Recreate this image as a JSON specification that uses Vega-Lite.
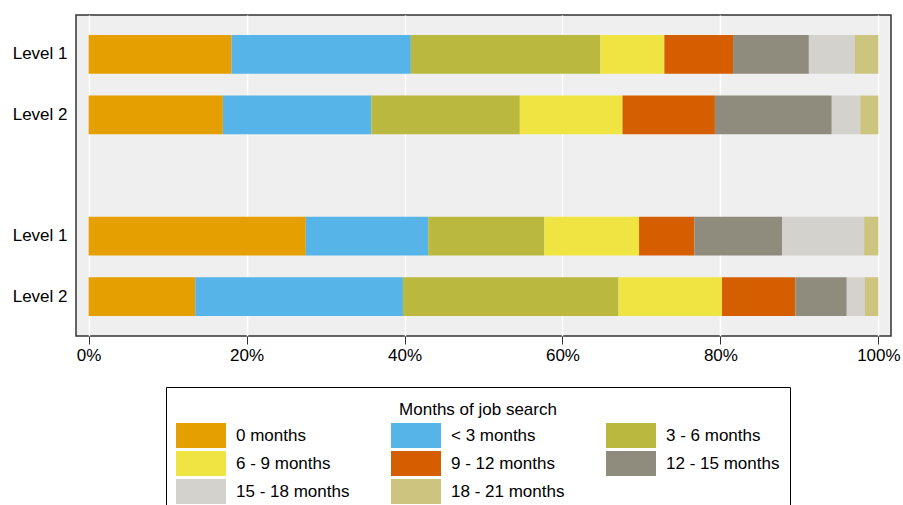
{
  "$schema": "https://vega.github.io/schema/vega-lite/v6.json",
  "width": 815,
  "height": 321,
  "autosize": {"type": "none"},
  "padding": {"left": 76, "top": 15, "right": 12, "bottom": 169},
  "background": "white",
  "config": {
    "font": "Liberation Sans",
    "view": {"fill": "#EFEFEF", "stroke": "#333333", "strokeWidth": 1.5}
  },
  "data": {
    "values": [
      {"row": "A|Level 1", "k": 1, "cat": "0 months", "pct": 18.1},
      {"row": "A|Level 1", "k": 2, "cat": "< 3 months", "pct": 22.7},
      {"row": "A|Level 1", "k": 3, "cat": "3 - 6 months", "pct": 24.0},
      {"row": "A|Level 1", "k": 4, "cat": "6 - 9 months", "pct": 8.1},
      {"row": "A|Level 1", "k": 5, "cat": "9 - 12 months", "pct": 8.7},
      {"row": "A|Level 1", "k": 6, "cat": "12 - 15 months", "pct": 9.6},
      {"row": "A|Level 1", "k": 7, "cat": "15 - 18 months", "pct": 5.8},
      {"row": "A|Level 1", "k": 8, "cat": "18 - 21 months", "pct": 3.0},
      {"row": "A|Level 2", "k": 1, "cat": "0 months", "pct": 17.0},
      {"row": "A|Level 2", "k": 2, "cat": "< 3 months", "pct": 18.8},
      {"row": "A|Level 2", "k": 3, "cat": "3 - 6 months", "pct": 18.8},
      {"row": "A|Level 2", "k": 4, "cat": "6 - 9 months", "pct": 13.0},
      {"row": "A|Level 2", "k": 5, "cat": "9 - 12 months", "pct": 11.7},
      {"row": "A|Level 2", "k": 6, "cat": "12 - 15 months", "pct": 14.8},
      {"row": "A|Level 2", "k": 7, "cat": "15 - 18 months", "pct": 3.6},
      {"row": "A|Level 2", "k": 8, "cat": "18 - 21 months", "pct": 2.3},
      {"row": "B|Level 1", "k": 1, "cat": "0 months", "pct": 27.5},
      {"row": "B|Level 1", "k": 2, "cat": "< 3 months", "pct": 15.5},
      {"row": "B|Level 1", "k": 3, "cat": "3 - 6 months", "pct": 14.7},
      {"row": "B|Level 1", "k": 4, "cat": "6 - 9 months", "pct": 12.0},
      {"row": "B|Level 1", "k": 5, "cat": "9 - 12 months", "pct": 7.0},
      {"row": "B|Level 1", "k": 6, "cat": "12 - 15 months", "pct": 11.1},
      {"row": "B|Level 1", "k": 7, "cat": "15 - 18 months", "pct": 10.4},
      {"row": "B|Level 1", "k": 8, "cat": "18 - 21 months", "pct": 1.8},
      {"row": "B|Level 2", "k": 1, "cat": "0 months", "pct": 13.5},
      {"row": "B|Level 2", "k": 2, "cat": "< 3 months", "pct": 26.3},
      {"row": "B|Level 2", "k": 3, "cat": "3 - 6 months", "pct": 27.3},
      {"row": "B|Level 2", "k": 4, "cat": "6 - 9 months", "pct": 13.1},
      {"row": "B|Level 2", "k": 5, "cat": "9 - 12 months", "pct": 9.3},
      {"row": "B|Level 2", "k": 6, "cat": "12 - 15 months", "pct": 6.5},
      {"row": "B|Level 2", "k": 7, "cat": "15 - 18 months", "pct": 2.3},
      {"row": "B|Level 2", "k": 8, "cat": "18 - 21 months", "pct": 1.7}
    ]
  },
  "mark": {"type": "bar"},
  "encoding": {
    "y": {
      "field": "row",
      "type": "nominal",
      "scale": {
        "domain": ["A|Level 1", "A|Level 2", "gap", "B|Level 1", "B|Level 2"],
        "paddingInner": 0.36,
        "paddingOuter": 0.33
      },
      "axis": {
        "title": null,
        "ticks": false,
        "domain": false,
        "labelFontSize": 17,
        "labelColor": "black",
        "labelPadding": 9,
        "labelExpr": "indexof(datum.label, '|') >= 0 ? split(datum.label, '|')[1] : ''"
      }
    },
    "x": {
      "field": "pct",
      "type": "quantitative",
      "stack": "zero",
      "scale": {"domain": [-1.6, 101.6], "nice": false, "zero": false},
      "axis": {
        "title": null,
        "values": [0, 20, 40, 60, 80, 100],
        "labelExpr": "datum.value + '%'",
        "labelFontSize": 17,
        "labelColor": "black",
        "grid": true,
        "gridColor": "white",
        "gridWidth": 1.5,
        "gridOpacity": 1,
        "tickColor": "#333333",
        "tickSize": 8,
        "domain": false,
        "labelPadding": 3
      }
    },
    "color": {
      "field": "cat",
      "type": "nominal",
      "scale": {
        "domain": ["0 months", "< 3 months", "3 - 6 months", "6 - 9 months", "9 - 12 months", "12 - 15 months", "15 - 18 months", "18 - 21 months"],
        "range": ["#E69F00", "#56B4E9", "#BAB83F", "#F0E442", "#D55E00", "#8F8C7E", "#D3D2CC", "#CCC47F"]
      },
      "legend": {
        "orient": "none",
        "direction": "horizontal",
        "legendX": 90,
        "legendY": 372,
        "columns": 3,
        "title": "Months of job search",
        "titleFontSize": 17,
        "titleFontWeight": "normal",
        "titleAnchor": "middle",
        "titleColor": "black",
        "titleBaseline": "line-top",
        "titleLineHeight": 26,
        "titlePadding": 9,
        "labelFontSize": 17,
        "labelColor": "black",
        "labelOffset": 35,
        "labelLimit": 200,
        "symbolType": "M-1,-1H3V1H-1Z",
        "symbolSize": 625,
        "symbolStrokeWidth": 0,
        "symbolOpacity": 1,
        "columnPadding": 41,
        "rowPadding": 3,
        "padding": 10,
        "strokeColor": "black",
        "fillColor": "white"
      }
    },
    "order": {"field": "k", "type": "quantitative"}
  }
}
